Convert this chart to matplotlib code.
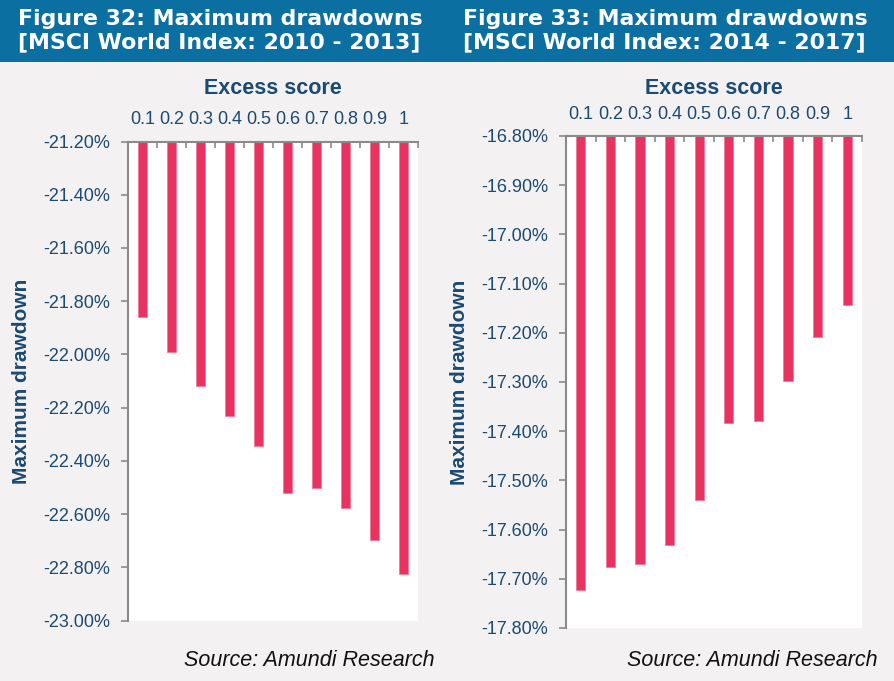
import matplotlib
matplotlib.use("Agg")
import matplotlib.pyplot as plt
import numpy as np
from matplotlib.patches import Rectangle
from matplotlib.ticker import FuncFormatter, FixedLocator

# data
scores = ["0.1", "0.2", "0.3", "0.4", "0.5", "0.6", "0.7", "0.8", "0.9", "1"]
dd_2010_2013 = [-21.86, -21.99, -22.12, -22.23, -22.345, -22.52, -22.50, -22.575, -22.695, -22.825]
dd_2014_2017 = [-17.722, -17.677, -17.670, -17.632, -17.539, -17.384, -17.380, -17.297, -17.209, -17.144]

titles = [
    "Figure 32: Maximum drawdowns\n[MSCI World Index: 2010 - 2013]",
    "Figure 33: Maximum drawdowns\n[MSCI World Index: 2014 - 2017]",
]
ylims = [(-23.0, -21.2), (-17.8, -16.8)]
ysteps = [0.2, 0.1]

BG = "#f3f1f2"
BLUE = "#0b6fa1"
NAVY = "#1b4a72"
BAR = "#e83360"
GREY = "#8a8a8a"

W, H = 894, 681
fig = plt.figure(figsize=(W / 100, H / 100), dpi=100, facecolor=BG)

# title banner
fig.patches.append(Rectangle((0, 1 - 62 / H), 1, 62 / H, transform=fig.transFigure,
                             facecolor=BLUE, edgecolor="none", zorder=0))
for tx, t in zip([18, 463], titles):
    fig.text(tx / W, 1 - 31 / H, t, color="white", fontsize=15.8, fontweight="bold",
             family="DejaVu Sans", va="center", ha="left", linespacing=1.2)

# axes boxes in pixels: left, top, right, bottom
boxes = [(128, 141.5, 418, 620.7), (566, 136, 862, 628)]
label_pads = [10, 9.4]
xlabel_pads = [12, 8.5]
ylabel_x = [31, 469]
source_x = [435, 878]

for i, (vals, box) in enumerate(zip([dd_2010_2013, dd_2014_2017], boxes)):
    l, t, r, b = box
    ax = fig.add_axes([l / W, 1 - b / H, (r - l) / W, (b - t) / H])
    ax.set_facecolor("white")
    lo, hi = ylims[i]
    x = np.arange(len(scores))
    v = np.array(vals)
    ax.bar(x, v - hi, bottom=hi, width=0.31, color=BAR, edgecolor="#f07a98",
           linewidth=0.6, zorder=2)
    ax.set_xlim(-0.5, len(scores) - 0.5)
    ax.set_ylim(lo, hi)

    # x axis on top
    ax.xaxis.tick_top()
    ax.xaxis.set_label_position("top")
    ax.set_xticks(x)
    ax.set_xticklabels(scores, family="Liberation Sans", fontsize=13, color=NAVY)
    ax.tick_params(axis="x", which="major", length=0, pad=label_pads[i])
    ax.xaxis.set_minor_locator(FixedLocator(np.arange(-0.5, len(scores), 1.0)))
    ax.tick_params(axis="x", which="minor", direction="in", length=4, width=1.2,
                   color=GREY, top=True, bottom=False)
    ax.set_xlabel("Excess score", family="Liberation Sans", fontsize=15.5,
                  fontweight="bold", color=NAVY, labelpad=xlabel_pads[i])

    # y axis
    ticks = np.round(np.arange(lo, hi + 1e-9, ysteps[i]), 2)
    ax.set_yticks(ticks)
    ax.yaxis.set_major_formatter(FuncFormatter(lambda y, p: f"{y:.2f}%"))
    ax.tick_params(axis="y", direction="out", length=5, width=1.2, color=GREY,
                   labelcolor=NAVY, labelsize=13, pad=8)
    for lab in ax.get_yticklabels():
        lab.set_family("Liberation Sans")
    ax.set_ylabel("Maximum drawdown", family="Liberation Sans", fontsize=15,
                  fontweight="bold", color=NAVY)
    ax.yaxis.set_label_coords(-(l - ylabel_x[i]) / (r - l), 0.5)

    for s in ["right", "bottom"]:
        ax.spines[s].set_visible(False)
    for s in ["left", "top"]:
        ax.spines[s].set_color(GREY)
        ax.spines[s].set_linewidth(1.5)

    fig.text(source_x[i] / W, 1 - 661 / H, "Source: Amundi Research",
             family="Liberation Sans", style="italic", fontsize=15.5,
             ha="right", va="center", color="#111111")

fig.savefig("out.png", dpi=100, facecolor=BG)
